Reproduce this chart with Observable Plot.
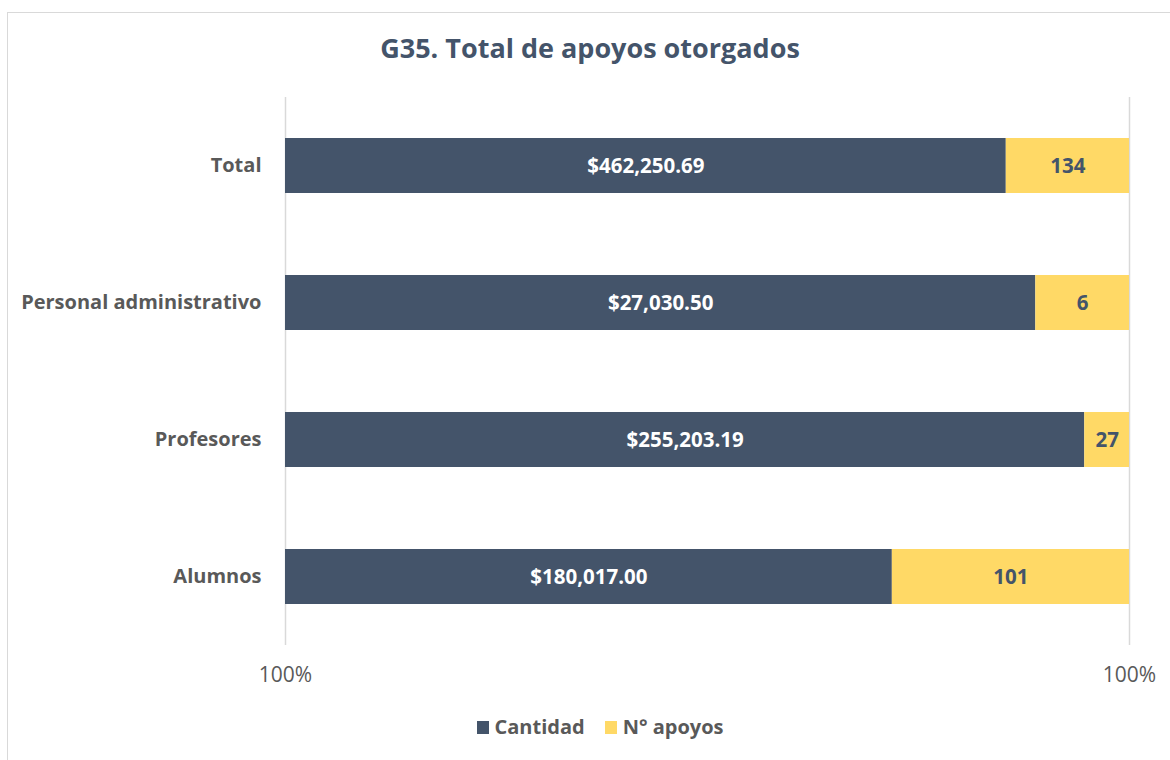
<!DOCTYPE html>
<html>
<head>
<meta charset="utf-8">
<script src="https://cdn.jsdelivr.net/npm/d3@7"></script>
<script src="https://cdn.jsdelivr.net/npm/@observablehq/plot@0.6"></script>
<style>
  body { margin: 0; background: #fff; font-family: "Open Sans", sans-serif; }
  #wrap { position: relative; width: 1170px; height: 760px; overflow: hidden; }
  #frame { position: absolute; left: 7px; top: 12px; width: 1200px; height: 800px; border: 1px solid #d9d9d9; box-sizing: border-box; }
  #title { position: absolute; left: 0; top: 28px; width: 1180px; text-align: center; font-weight: 700; font-size: 27px; color: #44546a; line-height: 40px; }
  #chart { position: absolute; left: 0; top: 80px; }
  #legend { position: absolute; left: 0; top: 713px; width: 1200px; display: flex; justify-content: center; gap: 20px; font-weight: 700; font-size: 20px; color: #595959; line-height: 28px; }
  .item { display: flex; align-items: center; gap: 6px; }
  .sw { display: inline-block; width: 12px; height: 13px; }
</style>
</head>
<body>
<div id="wrap">
  <div id="frame"></div>
  <div id="title">G35. Total de apoyos otorgados</div>
  <div id="chart"></div>
  <div id="legend"></div>
</div>
<script>
// Categories, top to bottom
const categories = ["Total", "Personal administrativo", "Profesores", "Alumnos"];
// Series names
const seriesNames = ["Cantidad", "N° apoyos"];
const seriesColors = ["#44546a", "#ffd966"];
// Labels shown in the bars
const cantidadLabels = ["$462,250.69", "$27,030.50", "$255,203.19", "$180,017.00"];
const apoyosLabels = ["134", "6", "27", "101"];
// Share of the bar occupied by "Cantidad"
const cantidadShare = [0.854, 0.889, 0.947, 0.719];
// Tick labels as shown
const xTickLabels = ["100%", "100%"];

const rows = [];
categories.forEach((c, i) => {
  rows.push({cat: c, series: seriesNames[0], x1: 0, x2: cantidadShare[i], label: cantidadLabels[i]});
  rows.push({cat: c, series: seriesNames[1], x1: cantidadShare[i], x2: 1, label: apoyosLabels[i]});
});

const chart = Plot.plot({
  width: 1170,
  height: 620,
  marginLeft: 285,
  marginRight: 41,
  marginTop: 17,
  marginBottom: 55,
  style: {fontFamily: "'Open Sans', sans-serif", color: "#595959", background: "transparent"},
  x: {domain: [0, 1]},
  y: {domain: categories, paddingInner: 0.6, paddingOuter: 0.3},
  color: {domain: seriesNames, range: seriesColors},
  marks: [
    Plot.ruleX([0, 1], {stroke: "#d9d9d9", strokeWidth: 1.5}),
    Plot.barX(rows, {x1: "x1", x2: "x2", y: "cat", fill: "series"}),
    Plot.text(rows.filter(d => d.series === seriesNames[0]), {
      x: d => (d.x1 + d.x2) / 2, y: "cat", text: "label", fill: "white",
      fontWeight: "bold", fontSize: 20.5
    }),
    Plot.text(rows.filter(d => d.series === seriesNames[1]), {
      x: d => (d.x1 + d.x2) / 2, y: "cat", text: "label", fill: "#44546a",
      fontWeight: "bold", fontSize: 20.5
    }),
    Plot.axisX({ticks: [0, 1], tickFormat: (d, i) => xTickLabels[i], tickSize: 0, tickPadding: 22, fontSize: 21, label: null}),
    Plot.axisY({tickSize: 0, tickPadding: 24, fontSize: 20, fontWeight: "bold", label: null})
  ]
});
document.getElementById("chart").appendChild(chart);

const legend = document.getElementById("legend");
seriesNames.forEach((s, i) => {
  const it = document.createElement("div");
  it.className = "item";
  it.innerHTML = `<span class="sw" style="background:${seriesColors[i]}"></span><span>${s}</span>`;
  legend.appendChild(it);
});
</script>
</body>
</html>
